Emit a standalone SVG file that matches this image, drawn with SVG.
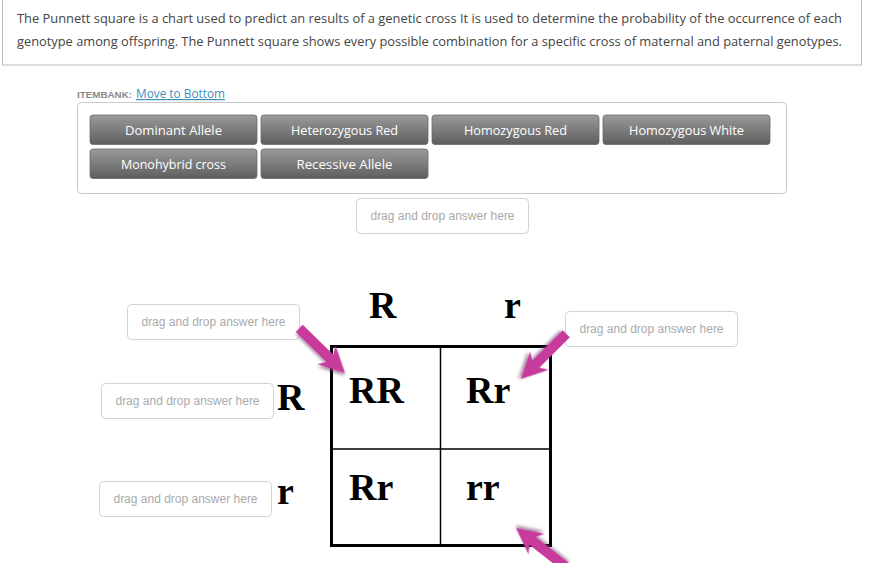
<svg xmlns="http://www.w3.org/2000/svg" width="869" height="563" viewBox="0 0 869 563">
<defs>
<style>
.para{font-family:"Open Sans","Liberation Sans",sans-serif;font-size:13px;fill:#444}
.bank{fill:#fff;stroke:#c8c8c8;stroke-width:1}
.btn{fill:url(#btnGrad);stroke:#6a6a6a;stroke-width:0.8}
.btnTxt{font-family:"Open Sans","Liberation Sans",sans-serif;font-size:13px;fill:#fff;text-anchor:middle}
.drop{fill:#fff;stroke:#cfd3d3;stroke-width:1}
.dropTxt{font-family:"Liberation Sans",Arial,sans-serif;font-size:12px;fill:#aaa;text-anchor:middle}
.big{font-family:"Liberation Serif","Times New Roman",serif;font-weight:bold;font-size:38px;fill:#000}
.arrow{fill:#c73a9c;filter:url(#shadow)}
</style>
<linearGradient id="btnGrad" x1="0" y1="0" x2="0" y2="1">
<stop offset="0" stop-color="#9a9a9a"/>
<stop offset="1" stop-color="#5e5e5e"/>
</linearGradient>
<filter id="shadow" x="-30%" y="-30%" width="160%" height="160%">
<feDropShadow dx="2" dy="2" stdDeviation="1.5" flood-color="#6a3a62" flood-opacity="0.55"/>
</filter>
<polygon id="arr" points="0,0 -26,-13 -21,-5 -64,-5 -64,5 -21,5 -26,13"/>
</defs>
<rect width="869" height="563" fill="#fff"/>

<g id="intro">
<rect x="2.5" y="-5" width="859" height="70" fill="#fff" stroke="#bbb" stroke-width="1"/>
<text class="para" x="17" y="23" textLength="825" lengthAdjust="spacingAndGlyphs">The Punnett square is a chart used to predict an results of a genetic cross It is used to determine the probability of the occurrence of each</text>
<text class="para" x="17" y="46" textLength="825" lengthAdjust="spacingAndGlyphs">genotype among offspring. The Punnett square shows every possible combination for a specific cross of maternal and paternal genotypes.</text>
</g>

<g id="itembank-label">
<text x="77" y="97.5" font-family="'Liberation Sans',Arial,sans-serif" font-size="9" font-weight="bold" fill="#8a8a8a" textLength="55" lengthAdjust="spacingAndGlyphs">ITEMBANK:</text>
<text x="136" y="98" font-family="'Open Sans','Liberation Sans',sans-serif" font-size="12" fill="#3d8ebf" text-decoration="underline" textLength="89" lengthAdjust="spacingAndGlyphs">Move to Bottom</text>
</g>

<g id="itembank">
<rect class="bank" x="77.5" y="102.5" width="709" height="91" rx="4"/>
</g>

<g id="btn-dominant"><rect class="btn" x="90" y="115" width="167" height="29.5" rx="3"/><text class="btnTxt" x="173.5" y="135" textLength="97" lengthAdjust="spacingAndGlyphs">Dominant Allele</text></g>
<g id="btn-hetero"><rect class="btn" x="261" y="115" width="167" height="29.5" rx="3"/><text class="btnTxt" x="344.5" y="135" textLength="107" lengthAdjust="spacingAndGlyphs">Heterozygous Red</text></g>
<g id="btn-homored"><rect class="btn" x="432" y="115" width="167" height="29.5" rx="3"/><text class="btnTxt" x="515.5" y="135" textLength="103" lengthAdjust="spacingAndGlyphs">Homozygous Red</text></g>
<g id="btn-homowhite"><rect class="btn" x="603" y="115" width="167" height="29.5" rx="3"/><text class="btnTxt" x="686.5" y="135" textLength="115" lengthAdjust="spacingAndGlyphs">Homozygous White</text></g>
<g id="btn-mono"><rect class="btn" x="90" y="149" width="167" height="29.5" rx="3"/><text class="btnTxt" x="173.5" y="169" textLength="105" lengthAdjust="spacingAndGlyphs">Monohybrid cross</text></g>
<g id="btn-recessive"><rect class="btn" x="261" y="149" width="167" height="29.5" rx="3"/><text class="btnTxt" x="344.5" y="169" textLength="96" lengthAdjust="spacingAndGlyphs">Recessive Allele</text></g>

<g id="drop-top"><rect class="drop" x="356.5" y="198.5" width="172" height="35" rx="4"/><text class="dropTxt" x="442.5" y="219.5">drag and drop answer here</text></g>
<g id="drop-left1"><rect class="drop" x="127.5" y="304.5" width="172" height="35" rx="4"/><text class="dropTxt" x="213.5" y="325.5">drag and drop answer here</text></g>
<g id="drop-right"><rect class="drop" x="565.5" y="311.5" width="172" height="35" rx="4"/><text class="dropTxt" x="651.5" y="332.5">drag and drop answer here</text></g>
<g id="drop-left2"><rect class="drop" x="101.5" y="383.5" width="172" height="35" rx="4"/><text class="dropTxt" x="187.5" y="404.5">drag and drop answer here</text></g>
<g id="drop-left3"><rect class="drop" x="99.5" y="481.5" width="172" height="35" rx="4"/><text class="dropTxt" x="185.5" y="502.5">drag and drop answer here</text></g>

<g id="punnett">
<rect x="331.5" y="346.5" width="219" height="199" fill="#fff" stroke="#000" stroke-width="3"/>
<line x1="440.5" y1="346" x2="440.5" y2="546" stroke="#000" stroke-width="1.5"/>
<line x1="331" y1="449" x2="551" y2="449" stroke="#000" stroke-width="1.5"/>
<text class="big" x="369" y="318">R</text>
<text class="big" x="504" y="318">r</text>
<text class="big" x="277" y="410">R</text>
<text class="big" x="277" y="504">r</text>
<text class="big" x="349" y="403">RR</text>
<text class="big" x="466" y="403">Rr</text>
<text class="big" x="349" y="500">Rr</text>
<text class="big" x="466" y="500">rr</text>
</g>

<g id="connectors">
<use href="#arr" class="arrow" transform="translate(345,373) rotate(44.3)"/>
<use href="#arr" class="arrow" transform="translate(521,379) rotate(135)"/>
<use href="#arr" class="arrow" transform="translate(516,528) rotate(218)"/>
</g>
</svg>
